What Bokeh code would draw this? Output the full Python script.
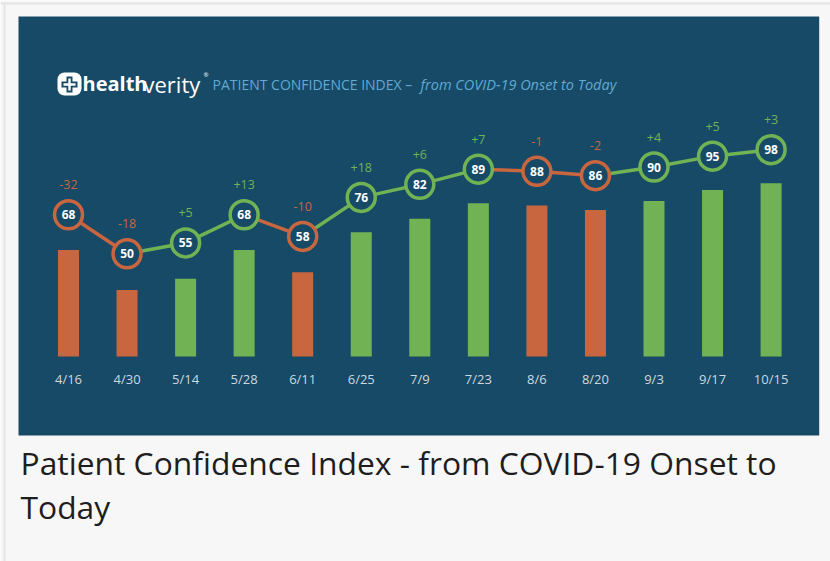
from bokeh.plotting import figure
from bokeh.models import Range1d, ColumnDataSource, Label, BoxAnnotation
from bokeh.core.properties import value
from bokeh.embed import file_html
from bokeh.resources import INLINE

# ---- data ----
dates = ["4/16", "4/30", "5/14", "5/28", "6/11", "6/25", "7/9",
         "7/23", "8/6", "8/20", "9/3", "9/17", "10/15"]
index_values = [68, 50, 55, 68, 58, 76, 82, 89, 88, 86, 90, 95, 98]
changes = [-32, -18, 5, 13, -10, 18, 6, 7, -1, -2, 4, 5, 3]
bar_base = 20

# ---- style ----
ORANGE = "#c8663f"
GREEN = "#71b354"
PANEL = "#164a66"
PAGE = "#f7f7f7"
FONT = value("Open Sans")

n = len(dates)
xs = list(range(n))
colors = [ORANGE if c < 0 else GREEN for c in changes]
src = ColumnDataSource(dict(
    x=xs, date=dates, v=index_values, base=[bar_base] * n, color=colors,
    vlabel=[str(v) for v in index_values],
    clabel=[f"{c:+d}" for c in changes],
))
seg = ColumnDataSource(dict(
    x0=xs[:-1], x1=xs[1:], y0=index_values[:-1], y1=index_values[1:],
    color=colors[1:],
))

p = figure(width=830, height=561,
           x_range=Range1d(-1.1614, 13.0145), y_range=Range1d(-72.34, 180.36),
           output_backend="svg", toolbar_location=None,
           x_axis_location=None, y_axis_location=None, min_border=0,
           background_fill_color=PAGE, border_fill_color=PAGE,
           outline_line_color=None)
p.grid.grid_line_color = None
p.extra_x_ranges = {"px": Range1d(0, 830)}
p.extra_y_ranges = {"px": Range1d(561, 0), "line": Range1d(-91.8, 166.73)}

# dark panel
p.add_layout(BoxAnnotation(left=18, right=818.7, top=16, bottom=435,
                           x_range_name="px", y_range_name="px",
                           fill_color=PANEL, fill_alpha=1, line_color=None,
                           level="underlay"))
# page border lines
p.add_layout(BoxAnnotation(left=0, right=830, top=2, bottom=4,
                           x_range_name="px", y_range_name="px",
                           fill_color="#e4e4e4", fill_alpha=1, line_color=None,
                           level="underlay"))
p.add_layout(BoxAnnotation(left=3, right=5, top=2, bottom=561,
                           x_range_name="px", y_range_name="px",
                           fill_color="#e4e4e4", fill_alpha=1, line_color=None,
                           level="underlay"))

# bars
p.vbar(x="x", width=0.359, top="v", bottom="base", fill_color="color",
       line_color=None, source=src)

# line segments
p.segment(x0="x0", y0="y0", x1="x1", y1="y1", line_color="color",
          line_width=3.5, y_range_name="line", source=seg)

# circles
p.scatter(x="x", y="v", size=28, fill_color=PANEL, line_color="color",
          line_width=3.5, y_range_name="line", source=src)

p.text(x="x", y="v", text="vlabel", y_range_name="line", source=src,
       text_align="center", text_baseline="middle", text_color="white",
       text_font=FONT, text_font_style="bold", text_font_size="12px")

p.text(x="x", y="v", text="clabel", y_range_name="line", source=src,
       y_offset=-30, text_align="center", text_baseline="middle",
       text_color="color", text_font=FONT, text_font_size="12.5px")

# category labels
p.text(x="x", y=378, text="date", y_range_name="px", source=src,
       text_align="center", text_baseline="middle", text_color="#cfd8de",
       text_font=FONT, text_font_size="13px")

# logo
def box(l, r, t, b, c, rad=0):
    p.add_layout(BoxAnnotation(left=l, right=r, top=t, bottom=b,
                               x_range_name="px", y_range_name="px",
                               fill_color=c, fill_alpha=1, line_color=None,
                               border_radius=rad))

box(57, 81, 72, 95, "white", 7)
box(61, 77, 81, 87, PANEL)
box(66, 72, 76, 92, PANEL)
box(63, 75, 82.8, 85.2, "white")
box(67.8, 70.2, 78, 90, "white")

def lab(x, y, t, size, color, style="normal", align="left"):
    p.add_layout(Label(x=x, y=y, text=t, x_range_name="px", y_range_name="px",
                       text_font="Open Sans", text_font_size=size,
                       text_color=color, text_font_style=style,
                       text_baseline="alphabetic", text_align=align))

lab(82, 83, "health", "20px", "white", "bold")
lab(143, 83, "verity", "22px", "white")
lab(203, 74, "®", "6px", "white")
lab(212, 83.5, "PATIENT CONFIDENCE INDEX \u2013", "14px", "#62a9d3")
lab(420, 83.5, "from COVID-19 Onset to Today", "14.5px", "#62a9d3", "italic")

# caption
lab(20, 462, "Patient Confidence Index - from COVID-19 Onset to", "31.8px", "#1e1e1e")
lab(20, 506, "Today", "31.8px", "#1e1e1e")

open("out.html", "w").write(file_html(p, INLINE))
